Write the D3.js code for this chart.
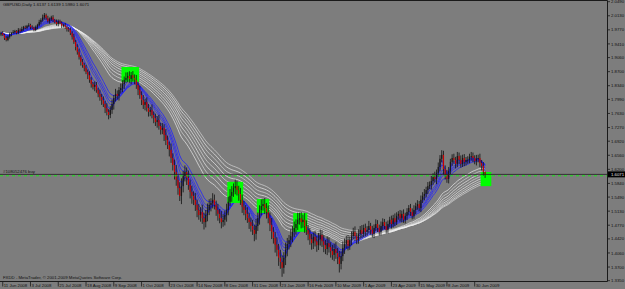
<!DOCTYPE html>
<html>
<head>
<meta charset="utf-8">
<script src="https://cdn.jsdelivr.net/npm/d3@7"></script>
<style>
body{margin:0;background:#7d7d7d;}
svg{display:block;}
</style>
</head>
<body>
<svg></svg>
<script>
// GBPUSD daily
var title = "GBPUSD,Daily  1.6137 1.6139 1.5980 1.6071";
var firstOpen = 1.9650;
var closes = [
  1.969,1.964,1.956,1.951,1.959,1.966,
  1.969,1.971,1.974,1.969,1.977,1.974,1.979,1.984,1.982,1.987,1.989,1.984,
  1.982,1.977,1.984,1.989,1.997,
  2.002,2.009,2.015,2.007,1.999,2.004,2.009,2.002,
  1.997,1.992,1.999,1.994,1.987,1.989,1.984,1.979,
  1.977,1.969,1.959,1.946,1.933,1.920,1.907,1.895,
  1.887,1.879,1.869,1.861,1.849,1.838,1.831,1.836,1.823,1.813,1.805,
  1.797,1.787,1.777,1.767,1.759,1.772,1.787,
  1.802,1.813,1.808,1.823,1.828,
  1.838,1.849,1.854,1.859,1.851,1.861,1.854,1.849,1.836,1.823,
  1.810,1.797,1.785,1.792,1.777,1.767,1.772,
  1.759,1.751,1.741,1.746,1.731,1.721,1.726,1.708,1.695,1.682,
  1.670,1.649,1.631,1.613,1.593,1.572,1.552,1.577,1.603,1.613,1.598,1.580,1.562,1.552,
  1.542,1.529,1.516,1.503,1.511,1.495,1.485,1.503,1.516,1.529,
  1.534,1.542,1.529,1.516,1.506,1.495,1.485,1.491,1.503,1.516,
  1.537,1.552,1.562,1.572,1.577,1.567,1.557,1.542,1.524,
  1.516,1.506,1.495,1.485,1.475,1.465,1.455,1.475,
  1.495,1.516,1.526,1.531,1.521,1.511,1.495,
  1.478,1.460,1.444,1.427,1.414,1.394,1.383,1.368,1.394,1.414,1.429,
  1.439,1.449,1.460,1.470,1.480,1.491,1.495,1.485,1.491,1.475,1.465,
  1.454,1.441,1.431,1.447,1.436,1.426,1.441,1.452,1.436,1.426,1.416,1.431,1.421,1.411,1.401,1.416,1.406,1.396,
  1.378,1.398,1.419,1.429,1.439,1.424,1.439,1.449,1.460,1.449,1.439,1.455,1.465,1.455,1.470,1.460,
  1.465,1.475,1.465,1.455,1.470,1.480,1.470,1.460,1.475,1.485,1.475,1.465,1.480,1.491,1.480,1.495,1.485,1.501,1.506,
  1.495,1.506,1.491,1.501,1.511,1.521,1.511,1.501,1.516,1.526,1.531,1.521,1.542,1.552,1.557,1.567,1.577,
  1.580,1.590,1.600,1.595,1.611,1.626,1.647,1.657,1.621,1.606,1.595,1.616,
  1.639,1.649,1.644,1.634,1.654,1.644,1.634,1.649,1.639,1.644,
  1.644,1.652,1.654,1.649,1.641,1.647,1.649,1.636,1.629,1.6137,1.6071
];
// upper / lower shadows in pips
var wickUp = [
  30,45,25,50,35,40,20,55,30,25,45,35,60,30,40,25,50,35,45,30,
  40,35,55,45,70,50,35,60,45,40,55,30,65,45,40,50,35,60,40,55,
  60,45,80,55,70,90,50,75,60,85,65,100,70,55,90,75,60,110,80,95,
  85,120,70,95,110,80,130,90,75,115,100,85,140,95,120,80,105,90,125,85,
  110,95,130,85,120,100,75,140,90,115,105,135,80,125,95,150,110,90,160,120,
  140,180,110,150,200,130,170,120,190,140,160,115,175,135,150,120,185,140,130,165,
  145,120,170,135,110,155,125,180,140,115,160,130,175,150,120,165,140,110,155,135,
  150,125,170,140,115,160,135,185,145,120,170,140,155,130,165,145,175,120,160,190,
  150,200,170,140,185,155,130,175,145,165,120,180,140,155,130,170,145,125,160,140,
  115,150,130,165,140,120,155,135,170,145,125,160,140,175,130,150,120,165,140,110,
  130,95,120,105,140,90,115,100,125,85,110,95,130,80,105,90,120,100,85,115,
  95,80,110,90,75,105,85,120,90,70,100,85,115,80,95,75,105,90,120,85,
  100,80,110,95,125,85,105,90,130,100,140,85,115,95,120,105,90,125,100,80,
  95,110,80,105,90,115,85,100,75,95,80,105,90,70,100,85,110,80,95,2
];
var wickDn = [
  40,25,50,35,30,45,55,25,40,35,30,50,25,45,35,40,30,55,25,40,
  35,50,30,60,40,55,45,35,65,40,50,35,45,60,30,55,40,45,65,50,
  55,70,50,85,65,60,95,70,80,55,100,75,90,65,110,70,85,95,120,75,
  130,90,110,80,100,140,85,95,120,90,105,125,80,110,95,135,90,115,100,130,
  95,125,105,140,90,120,110,85,130,100,145,95,120,110,155,130,100,170,125,140,
  190,150,170,130,210,160,140,180,125,165,200,135,155,185,120,170,145,190,135,160,
  130,165,140,115,150,175,130,160,120,145,170,135,110,150,125,160,140,175,130,155,
  135,160,120,175,145,130,190,150,125,165,140,115,155,170,130,160,185,140,200,165,
  210,175,230,150,190,165,140,180,155,135,170,150,125,160,145,175,130,155,140,165,
  150,135,170,125,160,145,180,130,155,140,170,125,160,150,185,220,140,130,155,120,
  115,100,130,90,120,105,95,125,110,85,115,100,90,120,95,110,85,105,100,90,
  110,85,100,95,80,115,90,105,75,100,90,110,80,95,105,85,100,90,75,110,
  95,85,105,80,115,90,100,75,120,95,85,130,100,110,90,145,120,95,110,85,
  100,90,115,85,105,95,80,110,90,100,85,95,105,80,110,90,100,120,95,91
];

var dateLabels = ["11 Jun 2008","3 Jul 2008","25 Jul 2008","18 Aug 2008","9 Sep 2008","1 Oct 2008",
  "23 Oct 2008","14 Nov 2008","8 Dec 2008","31 Dec 2008","23 Jan 2009","16 Feb 2009","10 Mar 2009",
  "1 Apr 2009","23 Apr 2009","15 May 2009","8 Jun 2009","30 Jun 2009"];
var dateBars = [1,17,33,49,65,81,97,113,129,145,161,177,193,209,225,241,257,273];
var priceTicks = ["2.0490","2.0130","1.9770","1.9410","1.9060","1.8700","1.8340","1.7990","1.7630","1.7270",
  "1.6920","1.6560","1.6200","1.5840","1.5490","1.5130","1.4770","1.4420","1.4060","1.3700","1.3350"];

var fastPeriods = [3,5,8,10,12,15];
var slowPeriods = [30,35,40,45,50,55,60,65];

// green zones: bar range + price range
var zoneFrom = [70,131,148,169,277];
var zoneTo   = [79,139,154,176,282];
var zoneHi   = [1.882,1.588,1.544,1.508,1.613];
var zoneLo   = [1.844,1.534,1.508,1.460,1.577];

var bidPrice = 1.6071;
var orderPrice = 1.6035;
var orderLabel = "#108052476 buy";
var copyright = "FXDD - MetaTrader, \u00a9 2001-2009 MetaQuotes Software Corp.";

var screen = {width: 625, height: 289};
var plot = {right: 607.5, bottom: 281.5};
var font = "'Liberation Sans', Arial, sans-serif";
var fontSize = 4.3;

var svg = d3.select("svg")
  .attr("width", screen.width)
  .attr("height", screen.height);

var xScale = d3.scaleLinear().domain([0, 350]).range([1, 608.3]);
var yScale = d3.scaleLinear().domain([1.3350, 2.0490]).range([280.7, 1.7]);

svg.append("rect")
  .attr("width", screen.width).attr("height", screen.height)
  .attr("fill", "#7d7d7d");

// exponential moving average of closes
var ema = function(values, period){
  var k = 2 / (period + 1), prev = values[0];
  return values.map(function(v, i){
    if (i > 0) prev = prev + k * (v - prev);
    return prev;
  });
};

var line = d3.line()
  .x(function(d, i){ return xScale(i); })
  .y(function(d){ return yScale(d); });

svg.append("clipPath").attr("id", "clip")
  .append("rect").attr("width", plot.right).attr("height", plot.bottom);
var lines = svg.append("g").attr("clip-path", "url(#clip)");

slowPeriods.forEach(function(p, j){
  lines.append("path")
    .attr("d", line(ema(closes, p)))
    .attr("fill", "none")
    .attr("stroke", j % 2 ? "#e6e6e6" : "#ffffff")
    .attr("stroke-width", 0.6);
});
fastPeriods.forEach(function(p, j){
  lines.append("path")
    .attr("d", line(ema(closes, p)))
    .attr("fill", "none")
    .attr("stroke", j % 2 ? "#1e1eff" : "#3030e8")
    .attr("stroke-width", 0.8);
});

// green zones
svg.append("g").selectAll("rect")
  .data(zoneFrom)
  .enter()
  .append("rect")
  .attr("x", function(d){ return xScale(d) - 1; })
  .attr("width", function(d, i){ return xScale(zoneTo[i]) - xScale(d) + 2; })
  .attr("y", function(d, i){ return yScale(zoneHi[i]); })
  .attr("height", function(d, i){ return yScale(zoneLo[i]) - yScale(zoneHi[i]); })
  .attr("fill", "#00ff00");

// candles
var bars = closes.map(function(c, i){
  var o = i == 0 ? firstOpen : closes[i - 1];
  return {
    i: i, o: o, c: c,
    h: Math.max(o, c) + wickUp[i] / 10000,
    l: Math.min(o, c) - wickDn[i] / 10000
  };
});

var candles = svg.append("g").selectAll("g")
  .data(bars)
  .enter()
  .append("g");

candles.append("line")
  .attr("x1", function(d){ return xScale(d.i); })
  .attr("x2", function(d){ return xScale(d.i); })
  .attr("y1", function(d){ return yScale(d.h); })
  .attr("y2", function(d){ return yScale(d.l); })
  .attr("stroke", "#101010")
  .attr("stroke-width", 0.8);

candles.append("rect")
  .attr("x", function(d){ return xScale(d.i) - 0.6; })
  .attr("width", 1.2)
  .attr("y", function(d){ return yScale(Math.max(d.o, d.c)); })
  .attr("height", function(d){ return Math.max(0.8, Math.abs(yScale(d.o) - yScale(d.c))); })
  .attr("fill", function(d){ return d.c < d.o ? "#c80000" : "#181818"; });

// bid line and order line
svg.append("line")
  .attr("x1", 0).attr("x2", plot.right)
  .attr("y1", yScale(bidPrice)).attr("y2", yScale(bidPrice))
  .attr("stroke", "#202020").attr("stroke-width", 0.8);
svg.append("line")
  .attr("x1", 0).attr("x2", plot.right)
  .attr("y1", yScale(orderPrice)).attr("y2", yScale(orderPrice))
  .attr("stroke", "#00ff00").attr("stroke-width", 0.8)
  .attr("stroke-dasharray", "3,3");
svg.append("text")
  .attr("x", 3).attr("y", yScale(orderPrice) - 2.5)
  .attr("font-family", font).attr("font-size", fontSize)
  .attr("fill", "#101010")
  .text(orderLabel);

// frame
svg.append("path")
  .attr("d", "M0,0.5H" + plot.right + "V" + plot.bottom + "H0")
  .attr("fill", "none").attr("stroke", "#1a1a1a").attr("stroke-width", 1);

// price axis
var yAxis = svg.append("g");
priceTicks.forEach(function(t){
  var y = yScale(+t);
  yAxis.append("line")
    .attr("x1", plot.right).attr("x2", plot.right + 2.5)
    .attr("y1", y).attr("y2", y)
    .attr("stroke", "#1a1a1a").attr("stroke-width", 0.8);
  yAxis.append("text")
    .attr("x", 611).attr("y", y + 1.6)
    .attr("font-family", font).attr("font-size", fontSize)
    .attr("fill", "#101010")
    .text(t);
});
yAxis.append("rect")
  .attr("x", plot.right + 0.5).attr("y", yScale(bidPrice) - 3)
  .attr("width", 17).attr("height", 6)
  .attr("fill", "#000");
yAxis.append("text")
  .attr("x", 611).attr("y", yScale(bidPrice) + 1.6)
  .attr("font-family", font).attr("font-size", fontSize)
  .attr("fill", "#e0e0e0")
  .text(bidPrice.toFixed(4));

// date axis
var xAxis = svg.append("g");
dateBars.forEach(function(b, k){
  var x = xScale(b);
  xAxis.append("line")
    .attr("x1", x).attr("x2", x)
    .attr("y1", plot.bottom).attr("y2", plot.bottom + 5)
    .attr("stroke", "#1a1a1a").attr("stroke-width", 0.8);
  xAxis.append("text")
    .attr("x", x + 1).attr("y", 287)
    .attr("font-family", font).attr("font-size", fontSize)
    .attr("fill", "#101010")
    .text(dateLabels[k]);
});

svg.append("text")
  .attr("x", 3).attr("y", 6)
  .attr("font-family", font).attr("font-size", fontSize)
  .attr("fill", "#101010")
  .text(title);
svg.append("text")
  .attr("x", 3).attr("y", 278.5)
  .attr("font-family", font).attr("font-size", fontSize)
  .attr("fill", "#101010")
  .text(copyright);
</script>
</body>
</html>
